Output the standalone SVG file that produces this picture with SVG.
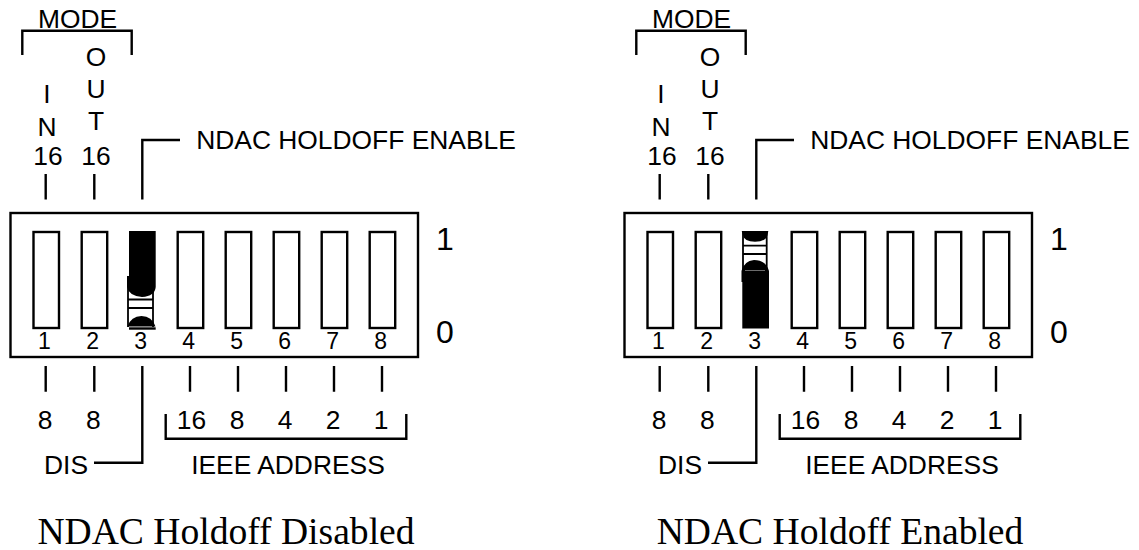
<svg xmlns="http://www.w3.org/2000/svg" width="1139" height="550" viewBox="0 0 1139 550">
<style>
.t{font-family:"Liberation Sans",Arial,sans-serif;font-size:26.4px;fill:#000;text-anchor:middle}
.s{font-family:"Liberation Sans",Arial,sans-serif;font-size:23px;fill:#000;text-anchor:middle}
.d{font-family:"Liberation Sans",Arial,sans-serif;font-size:32px;fill:#000;text-anchor:middle}
.c{font-family:"Liberation Serif","Times New Roman",serif;font-size:37.6px;fill:#000;text-anchor:middle}
.l{fill:none;stroke:#000;stroke-width:2.4;stroke-linejoin:miter}
.b{fill:#fff;stroke:#000;stroke-width:2.4}
.h{fill:none;stroke:#000;stroke-width:1.8}
.f{fill:#000}
</style>
<defs>
<g id="base">
<rect class="b" x="10.500" y="213" width="407.500" height="144"/>
<rect class="b" x="33.500" y="232" width="25.500" height="96"/>
<rect class="b" x="81.700" y="232" width="25.500" height="96"/>
<rect class="b" x="177.700" y="232" width="25.500" height="96"/>
<rect class="b" x="225.700" y="232" width="25.500" height="96"/>
<rect class="b" x="273.700" y="232" width="25.500" height="96"/>
<rect class="b" x="321.700" y="232" width="25.500" height="96"/>
<rect class="b" x="369.700" y="232" width="25.500" height="96"/>
<text class="s" x="44.500" y="349">1</text><text class="s" x="92.700" y="349">2</text><text class="s" x="140.700" y="349">3</text><text class="s" x="188.700" y="349">4</text><text class="s" x="236.700" y="349">5</text><text class="s" x="284.700" y="349">6</text><text class="s" x="332.700" y="349">7</text><text class="s" x="380.700" y="349">8</text>
<text class="d" x="445" y="250">1</text><text class="d" x="445" y="343">0</text>
</g>
<g id="conn">
<path class="l" d="M22.300 55V30.700H131.700V55"/>
<path class="l" d="M45.700 174V199.500M94.300 174V199.500M142.300 199.500V140H180"/>
<path class="l" d="M45.700 366V391.700M94.300 366V391.700M190 366V391.700M238 366V391.700M286 366V391.700M334 366V391.700M382 366V391.700"/>
<path class="l" d="M142.300 366V462.700H94"/>
<path class="l" d="M165.700 414V438.700H406.300V414"/>
</g>
<g id="labels">
<text class="t" x="77.500" y="28">MODE</text>
<text class="t" x="96" y="65.500">O</text><text class="t" x="96" y="98">U</text><text class="t" x="96" y="130">T</text><text class="t" x="96" y="165">16</text>
<text class="t" x="47" y="103">I</text><text class="t" x="47" y="136">N</text><text class="t" x="48" y="165">16</text>
<text class="t" x="356" y="149">NDAC HOLDOFF ENABLE</text>
<text class="t" x="45" y="429">8</text><text class="t" x="93.300" y="429">8</text>
<text class="t" x="191.500" y="429">16</text><text class="t" x="237" y="429">8</text><text class="t" x="285" y="429">4</text><text class="t" x="333" y="429">2</text><text class="t" x="381" y="429">1</text>
<text class="t" x="66" y="474">DIS</text><text class="t" x="288" y="474">IEEE ADDRESS</text>
</g>
</defs>
<g id="switch-disabled">
<use href="#base"/>
<g id="slider-3-up">
<path class="f" d="M129 231H155.700V287Q155 296 142 297Q129 296 127 287V276H129Z"/>
<path class="h" d="M128 285V327M153 285V327M128 299.500H153M128 308H153"/>
<path class="f" d="M127.500 326.500Q131 316 141.500 316Q152 316 155.500 326.500Z"/>
<path class="b" style="fill:none" d="M129 328.500H155.700"/>
</g>
</g>
<g id="switch-enabled">
<use href="#base" x="614"/>
<g id="slider-3-down">
<rect x="742" y="232" width="26.500" height="50" fill="#fff"/>
<path class="f" d="M742.300 328.500H769V271Q766 260 754 260Q744 261 741.500 271V282H742.300Z"/>
<path class="h" d="M743 232V272M766.700 232V272M743 245.700H766.700M743 254H766.700"/>
<path class="f" d="M741.700 231H768.300L767.500 235Q766 241.700 755 241.700Q744 241.700 743 235Z"/>
<path d="M745 270.500H765" stroke="#fff" stroke-width="0.700" opacity=".6"/>
</g>
</g>
<g id="connectors">
<use href="#conn"/>
<use href="#conn" x="614"/>
</g>
<g id="text-left"><use href="#labels"/><text class="c" x="226" y="544">NDAC Holdoff Disabled</text></g>
<g id="text-right"><use href="#labels" x="614"/><text class="c" x="840" y="544">NDAC Holdoff Enabled</text></g>
</svg>
